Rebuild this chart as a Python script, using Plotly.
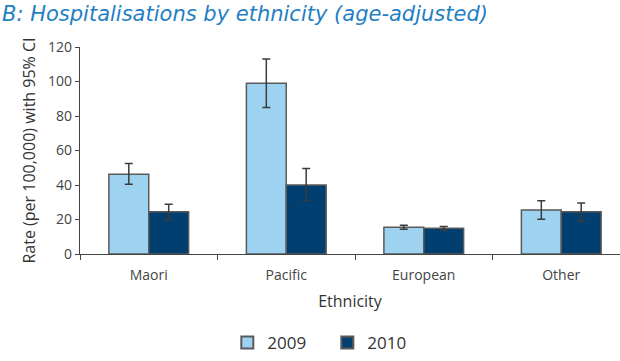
import plotly.graph_objects as go

# Age-adjusted hospitalisation rates per 100,000 with 95% confidence limits
ethnicity = ["Maori", "Pacific", "European", "Other"]
years = ["2009", "2010"]

rate_2009 = [46.3, 99.0, 15.5, 25.5]
upper_2009 = [52.4, 113.0, 16.6, 30.8]
lower_2009 = [40.5, 85.0, 14.3, 20.2]

rate_2010 = [24.5, 40.0, 15.0, 24.5]
upper_2010 = [28.9, 49.5, 16.0, 29.6]
lower_2010 = [20.0, 31.0, 13.8, 19.2]

y_ticks = [0, 20, 40, 60, 80, 100, 120]

colors = {"2009": "#9dd2f0", "2010": "#003f6f"}
series = {
    "2009": (rate_2009, upper_2009, lower_2009),
    "2010": (rate_2010, upper_2010, lower_2010),
}

x_pos = list(range(len(ethnicity)))

fig = go.Figure()
for yr in years:
    vals, up, lo = series[yr]
    fig.add_trace(go.Bar(
        name=yr,
        x=x_pos,
        y=vals,
        marker=dict(color=colors[yr], line=dict(color="#5a5a5a", width=1.5)),
        error_y=dict(
            type="data",
            symmetric=False,
            array=[u - v for u, v in zip(up, vals)],
            arrayminus=[v - l for v, l in zip(vals, lo)],
            color="#3c3c3c",
            thickness=1.5,
            width=4,
        ),
    ))

axis_font = dict(family="Open Sans", size=14, color="#444444")

fig.update_layout(
    width=620,
    height=361,
    margin=dict(l=80, r=0, t=47, b=106),
    paper_bgcolor="white",
    plot_bgcolor="white",
    barmode="group",
    bargap=0.42,
    bargroupgap=0,
    font=dict(family="Open Sans", color="#444444"),
    showlegend=True,
    legend=dict(
        orientation="h",
        x=0.458,
        xanchor="center",
        y=-0.43,
        yanchor="middle",
        font=dict(family="Open Sans", size=17, color="#333333"),
        itemsizing="constant",
        entrywidth=55,
    ),
    xaxis=dict(
        range=[-0.5, -0.5 + 540 / 137.5],
        tickmode="array",
        tickvals=x_pos,
        ticktext=ethnicity,
        ticks="outside",
        ticklen=8,
        tickcolor="rgba(0,0,0,0)",
        tickfont=axis_font,
        showline=True,
        linecolor="#444444",
        linewidth=1.3,
        showgrid=False,
        zeroline=False,
        minor=dict(
            tick0=0.5,
            dtick=1,
            ticks="outside",
            ticklen=5,
            tickcolor="#444444",
            tickwidth=1.3,
            showgrid=False,
        ),
        title=dict(
            text="Ethnicity",
            font=dict(family="Open Sans", size=16, color="#333333"),
            standoff=12,
        ),
    ),
    yaxis=dict(
        range=[0, 120],
        tickmode="array",
        tickvals=y_ticks,
        ticks="outside",
        ticklen=4,
        tickcolor="#444444",
        tickwidth=1.3,
        tickfont=axis_font,
        showline=True,
        linecolor="#444444",
        linewidth=1.3,
        showgrid=False,
        zeroline=False,
        title=dict(
            text="Rate (per 100,000) with 95% CI",
            font=dict(family="Open Sans", size=16, color="#333333"),
            standoff=8,
        ),
    ),
)

# Chart heading across the top edge
fig.add_annotation(
    text="B: Hospitalisations by ethnicity (age-adjusted)",
    xref="paper",
    yref="paper",
    x=-80 / 540,
    y=1 + 47 / 208.6,
    xanchor="left",
    yanchor="top",
    showarrow=False,
    font=dict(family="DejaVu Sans", size=21, color="#1f80c4", style="italic"),
)

fig.write_html("out.html")
